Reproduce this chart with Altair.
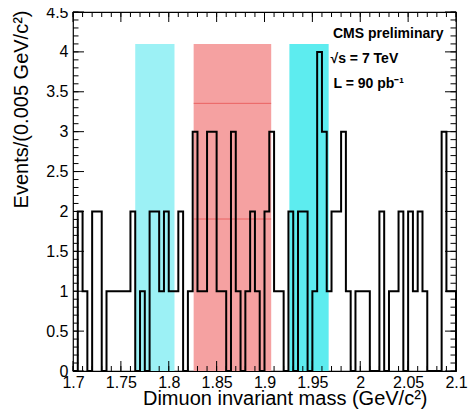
import altair as alt
import pandas as pd

# ---- data ----
bin_low = 1.7
bin_width = 0.005
counts = [0, 2, 1, 0, 2, 2, 0, 1, 1, 1,
          1, 1, 2, 0, 1, 0, 2, 2, 1, 2,
          1, 1, 2, 0, 1, 3, 1, 1, 3, 3,
          1, 1, 0, 3, 1, 0, 1, 2, 1, 0,
          2, 3, 1, 1, 0, 2, 0, 2, 2, 0,
          1, 4, 3, 1, 2, 2, 3, 1, 0, 1,
          1, 1, 0, 0, 2, 0, 1, 1, 2, 0,
          2, 1, 2, 1, 0, 0, 0, 3, 1, 1]

band_kind = ["sideband_low", "signal", "sideband_high"]
band_lo = [1.765, 1.826, 1.926]
band_hi = [1.806, 1.907, 1.967]
band_top = [4.1, 4.1, 4.1]
band_colors = ["#9cf1f5", "#f5a1a1", "#5decef"]
pattern_levels = [3.355, 1.905]

x_tick_labels = [1.7, 1.75, 1.8, 1.85, 1.9, 1.95, 2.0, 2.05, 2.1]
x_minor_ticks = [round(1.7 + 0.01 * i, 2) for i in range(41)]
y_tick_labels = [0, 0.5, 1, 1.5, 2, 2.5, 3, 3.5, 4, 4.5]
y_minor_ticks = [round(0.1 * i, 1) for i in range(46)]

annotations = ["CMS preliminary", "\u221as = 7 TeV", "L = 90 pb\u207b\u00b9"]

# ---- chart ----
W, H = 383, 359
FONT = "Liberation Sans"
x_scale = alt.Scale(domain=[1.7, 2.1], nice=False, zero=False)
y_scale = alt.Scale(domain=[0, 4.5], nice=False, zero=False)

xaxis = alt.Axis(values=x_tick_labels, format="~g", ticks=False, domain=False, grid=False,
                 labelFont=FONT, labelFontSize=16, labelColor="black", labelPadding=3,
                 labelFlush=False, labelOverlap=False,
                 title="Dimuon invariant mass (GeV/c\u00b2)", titleFont=FONT, titleFontSize=20,
                 titleFontWeight="normal", titleColor="black",
                 titleX=354, titleY=33.5, titleAlign="right", titleBaseline="alphabetic")
yaxis = alt.Axis(values=y_tick_labels, format="~g", ticks=False, domain=False, grid=False,
                 labelFont=FONT, labelFontSize=16, labelColor="black", labelPadding=5,
                 labelFlush=False, labelOverlap=False,
                 title="Events/(0.005 GeV/c\u00b2)", titleFont=FONT, titleFontSize=20,
                 titleFontWeight="normal", titleColor="black",
                 titleX=-52, titleY=-2, titleAngle=270, titleAlign="right",
                 titleBaseline="middle")

bands = pd.DataFrame({"kind": band_kind, "lo": band_lo, "hi": band_hi,
                      "top": band_top, "bottom": [0, 0, 0]})
band_layer = alt.Chart(bands).mark_rect().encode(
    x=alt.X("lo:Q", scale=x_scale, axis=xaxis),
    x2="hi:Q",
    y=alt.Y("top:Q", scale=y_scale, axis=yaxis),
    y2="bottom:Q",
    color=alt.Color("kind:N", scale=alt.Scale(domain=band_kind, range=band_colors), legend=None),
)

pat = pd.DataFrame({"lv": pattern_levels, "lo": [band_lo[1]] * 2, "hi": [band_hi[1]] * 2})
pattern_layer = alt.Chart(pat).mark_rule(color="#e23b3b", strokeWidth=1, opacity=0.6).encode(
    x=alt.X("lo:Q", scale=x_scale, axis=xaxis), x2="hi:Q",
    y=alt.Y("lv:Q", scale=y_scale, axis=yaxis),
)

edges = [round(bin_low + bin_width * i, 3) for i in range(len(counts))]
hist = pd.DataFrame({
    "x": edges + [2.1, 2.1],
    "y": counts + [counts[-1], 0],
    "o": list(range(len(counts) + 2)),
})
hist_layer = alt.Chart(hist).mark_line(interpolate="step-after", color="black",
                                       strokeWidth=2).encode(
    x=alt.X("x:Q", scale=x_scale, axis=xaxis),
    y=alt.Y("y:Q", scale=y_scale, axis=yaxis),
    order="o:Q",
)


def tick_layer(vals, side, length):
    df = pd.DataFrame({"v": vals})
    m = alt.Chart(df).mark_rule(color="black", strokeWidth=1)
    if side == "bottom":
        return m.encode(x=alt.X("v:Q", scale=x_scale, axis=xaxis),
                        y=alt.value(H), y2=alt.value(H - length))
    if side == "top":
        return m.encode(x=alt.X("v:Q", scale=x_scale, axis=xaxis),
                        y=alt.value(0), y2=alt.value(length))
    if side == "left":
        return m.encode(y=alt.Y("v:Q", scale=y_scale, axis=yaxis),
                        x=alt.value(0), x2=alt.value(length))
    return m.encode(y=alt.Y("v:Q", scale=y_scale, axis=yaxis),
                    x=alt.value(W), x2=alt.value(W - length))


ticks = []
for side in ["bottom", "top"]:
    ticks.append(tick_layer(x_minor_ticks, side, 5))
    ticks.append(tick_layer(x_tick_labels, side, 10))
for side in ["left", "right"]:
    ticks.append(tick_layer(y_minor_ticks, side, 5.5))
    ticks.append(tick_layer(y_tick_labels, side, 11))

ann_pos = [(260, 26.3), (257.5, 51.2), (260.5, 76.3)]
texts = []
for t, (px, py) in zip(annotations, ann_pos):
    texts.append(
        alt.Chart(pd.DataFrame({"t": [t]})).mark_text(
            align="left", baseline="alphabetic", font=FONT, fontSize=14,
            fontWeight="bold", color="black").encode(
            x=alt.value(px), y=alt.value(py), text="t:N")
    )

chart = alt.layer(band_layer, pattern_layer, hist_layer, *ticks, *texts).properties(
    width=W, height=H,
    autosize=alt.AutoSizeParams(type="none"),
    padding={"left": 65, "top": 4, "right": 12, "bottom": 38},
    background="white",
).configure_view(stroke="black", strokeWidth=1.2)

chart.save("out.html", embed_options={"renderer": "svg", "actions": False})
